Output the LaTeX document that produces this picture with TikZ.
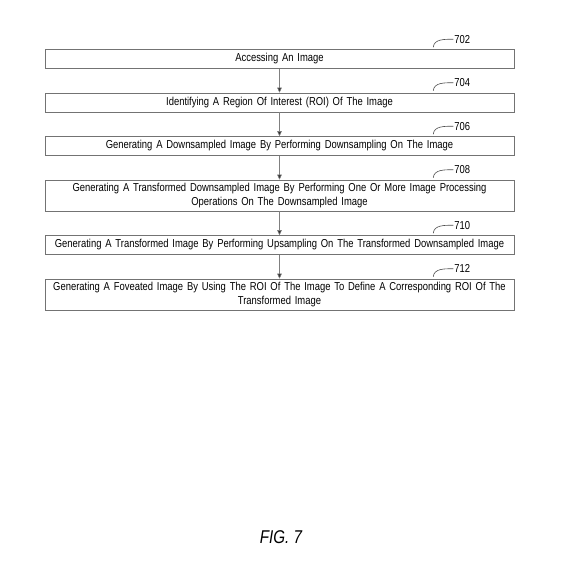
\documentclass[tikz,border=0pt]{standalone}
\usepackage{fontspec}
\setmainfont[FakeStretch=0.82]{Liberation Sans}
\usepackage{tikz}
\usetikzlibrary{arrows.meta,positioning}

\begin{document}
\begin{tikzpicture}[
    x=1pt, y=1pt,
    node distance=24pt,
    stepbox/.style={draw=black!55, line width=0.5pt, align=center, text width=464pt, minimum width=469pt, minimum height=19pt, inner sep=1.5pt, font=\fontsize{11.5}{14}\selectfont},
    refnum/.style={font=\fontsize{11.5}{12}\selectfont, inner sep=1pt, anchor=west},
    hook/.style={draw=black!70, line width=0.6pt},
    flow/.style={-{Triangle[length=5pt,width=4.5pt,fill=black!80]}, draw=black!50, line width=0.5pt}
]
\useasboundingbox (0,0) rectangle (579,-569);
\node[stepbox] (access) at (279.5,-59) {Accessing An Image};
\node[stepbox, below=of access] (roi) {Identifying A Region Of Interest (ROI) Of The Image};
\node[stepbox, below=of roi] (down) {Generating A Downsampled Image By Performing Downsampling On The Image};
\node[stepbox, below=of down, minimum height=31pt] (process) {Generating A Transformed Downsampled Image By Performing One Or More Image Processing\\Operations On The Downsampled Image};
\node[stepbox, below=of process] (up) {Generating A Transformed Image By Performing Upsampling On The Transformed Downsampled Image};
\node[stepbox, below=of up, minimum height=31pt] (fovea) {Generating A Foveated Image By Using The ROI Of The Image To Define A Corresponding ROI Of The\\Transformed Image};
% reference numerals
\foreach \blk/\num in {access/702, roi/704, down/706, process/708, up/710, fovea/712} {
    \node[refnum] (n\num) at ([xshift=-61pt, yshift=10pt]\blk.north east) {\num};
    \draw[hook] (n\num.west) to[out=180, in=85] ++(-20pt, -8pt);
}
\draw[flow] (access) -- (roi);
\draw[flow] (roi) -- (down);
\draw[flow] (down) -- (process);
\draw[flow] (process) -- (up);
\draw[flow] (up) -- (fovea);
\node[font=\fontsize{18.5}{20}\selectfont\itshape] (fig) at (281,-537) {FIG. 7};
\end{tikzpicture}
\end{document}
